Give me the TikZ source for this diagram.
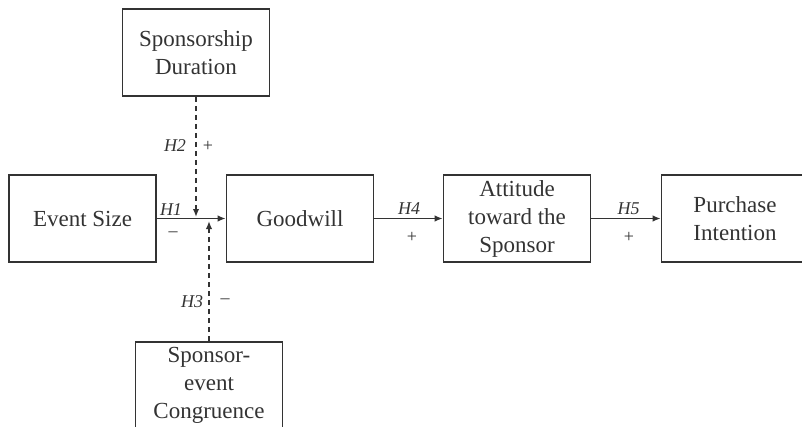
\documentclass[tikz,border=0pt]{standalone}
\usepackage{fontspec}
\setmainfont{Liberation Serif}
\usetikzlibrary{arrows.meta}
\definecolor{ink}{RGB}{51,51,51}
\begin{document}
\begin{tikzpicture}[x=1pt,y=-1pt,
  box/.style={draw=ink,line width=1.6pt,minimum width=147pt,minimum height=87pt,
    inner sep=0pt,align=center,text=ink,font=\fontsize{23}{28}\selectfont},
  hlabel/.style={text=ink,inner sep=0pt,font=\fontsize{18}{20}\selectfont\itshape},
  sign/.style={text=ink,inner sep=0pt,font=\fontsize{18}{20}\selectfont},
  link/.style={draw=ink,line width=1.6pt,-{Latex[length=8pt,width=6.5pt]}},
  dlink/.style={link,dash pattern=on 5pt off 4pt}]
\clip (0,0) rectangle (802,426);
\useasboundingbox (0,0) rectangle (802,426);
\node[box] (dur) at (196,52.5) {Sponsorship\\Duration};
\node[box] (size) at (82.5,218.5) {Event Size};
\node[box] (good) at (300,218.5) {Goodwill};
\node[box] (att) at (517,218.5) {Attitude\\toward the\\Sponsor};
\node[box] (pi) at (735,218.5) {Purchase\\Intention};
\node[box] (cong) at (209,385.5) {Sponsor-\\event\\Congruence};
\coordinate (j1) at (196,217);
\coordinate (j2) at (209,221);
\draw[link] (size.east) -- (good.west);
\draw[link] (good.east) -- (att.west);
\draw[link] (att.east) -- (pi.west);
\draw[dlink] (dur.south) -- (j1);
\draw[dlink] (cong.north) -- (j2);
\node[hlabel] (h1) at (171,210) {H1};
\node[sign] (s1) at (173,234) {–};
\node[hlabel] (h2) at (175,146) {H2};
\node[sign] (s2) at (208,146) {+};
\node[hlabel] (h3) at (192,302) {H3};
\node[sign] (s3) at (225,301) {–};
\node[hlabel] (h4) at (409,209) {H4};
\node[sign] (s4) at (412,237) {+};
\node[hlabel] (h5) at (628.5,209) {H5};
\node[sign] (s5) at (629,237) {+};
\end{tikzpicture}
\end{document}
